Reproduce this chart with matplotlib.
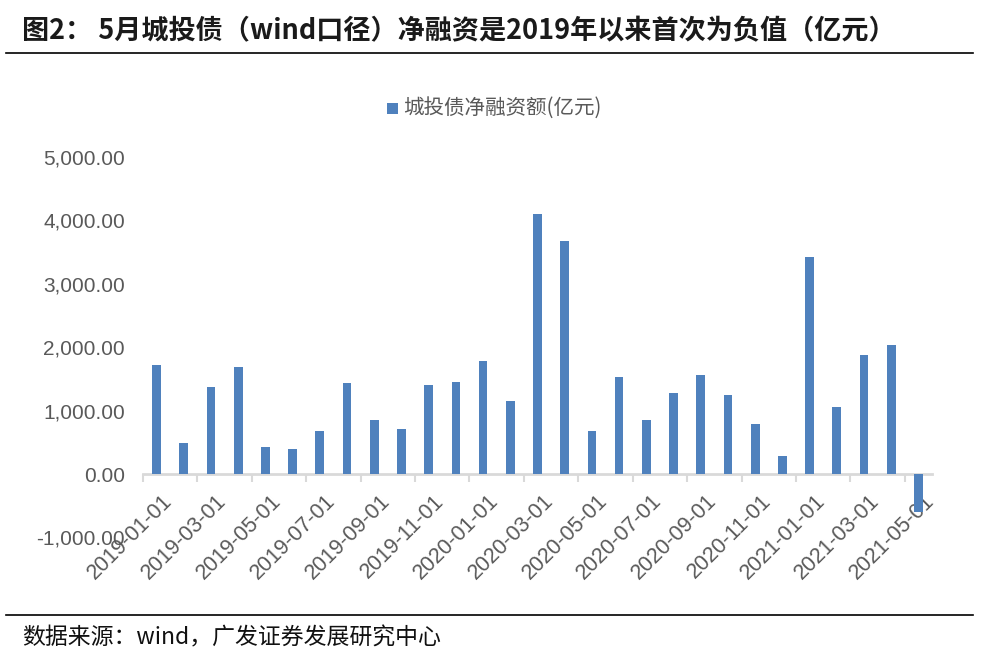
import matplotlib
matplotlib.use("Agg")
import matplotlib.pyplot as plt
from matplotlib.lines import Line2D
from matplotlib.patches import Rectangle
import numpy as np

plt.rcParams['font.family'] = ['Liberation Sans', 'Noto Sans CJK SC', 'DejaVu Sans']

months = ["2019-01-01", "2019-02-01", "2019-03-01", "2019-04-01", "2019-05-01", "2019-06-01",
          "2019-07-01", "2019-08-01", "2019-09-01", "2019-10-01", "2019-11-01", "2019-12-01",
          "2020-01-01", "2020-02-01", "2020-03-01", "2020-04-01", "2020-05-01", "2020-06-01",
          "2020-07-01", "2020-08-01", "2020-09-01", "2020-10-01", "2020-11-01", "2020-12-01",
          "2021-01-01", "2021-02-01", "2021-03-01", "2021-04-01", "2021-05-01"]
net_financing = [1720, 490, 1367, 1683, 421, 394, 678, 1430, 852, 710, 1399, 1446,
                 1777, 1157, 4101, 3680, 683, 1535, 852, 1272, 1556, 1251, 789, 279,
                 3418, 1062, 1877, 2040, -594]
yticks = [-1000, 0, 1000, 2000, 3000, 4000, 5000]

series_name = "城投债净融资额(亿元)"
title = "图2： 5月城投债（wind口径）净融资是2019年以来首次为负值（亿元）"
source = "数据来源：wind，广发证券发展研究中心"

bar_color = "#4F81BD"
gray = "#595959"

fig = plt.figure(figsize=(9.85, 6.7), dpi=100)
ax = fig.add_axes([143/985, 1-537.4/670, (932-143)/985, (537.4-157)/670])

x = np.arange(len(months))
ax.bar(x, net_financing, width=0.32, color=bar_color, zorder=2)

ax.set_xlim(-0.5, len(months) - 0.5)
ax.set_ylim(-1000, 5000)
ax.set_yticks(yticks)
ax.set_yticklabels([f"{v:,.2f}" for v in yticks], fontsize=15, color=gray)
ax.tick_params(axis='y', length=0, pad=13)

for s in ['top', 'right', 'left']:
    ax.spines[s].set_visible(False)
ax.spines['bottom'].set_position(('data', 0))
ax.spines['bottom'].set_color("#D9D9D9")
ax.spines['bottom'].set_linewidth(2)
ax.spines['bottom'].set_zorder(1)

ax.set_xticks(x[::2])
ax.set_xticklabels(months[::2], rotation=45, ha='right', va='top',
                   rotation_mode='anchor', fontsize=15.5, color=gray)
ax.set_xticks(np.arange(-0.5, len(months) - 1, 2), minor=True)
ax.tick_params(axis='x', which='major', length=0, pad=12)
ax.tick_params(axis='x', which='minor', length=6, width=1.5, color="#D9D9D9")
for lbl in ax.get_xticklabels():
    lbl.set_transform(lbl.get_transform() + matplotlib.transforms.ScaledTranslation(5/100, 0, fig.dpi_scale_trans))

# legend
fig.patches.append(Rectangle((387/985, 1-114/670), 11/985, 11/670, transform=fig.transFigure,
                             facecolor=bar_color, edgecolor='none'))
fig.text(403/985, 1-108/670, series_name, fontsize=14.8, color=gray, va='center', ha='left',
         family=['Noto Sans CJK SC', 'DejaVu Sans'])

# title & source
fig.text(22/985, 1-31/670, title, fontsize=19.5, fontweight='bold', color="#1a1a1a",
         va='center', ha='left', family=['Noto Sans CJK SC', 'DejaVu Sans'])
fig.add_artist(Line2D([6/985, 973/985], [1-53/670, 1-53/670], color='black', linewidth=1.2,
                      transform=fig.transFigure))
fig.add_artist(Line2D([6/985, 973/985], [1-615/670, 1-615/670], color='black', linewidth=1.2,
                      transform=fig.transFigure))
fig.text(22/985, 1-638/670, source, fontsize=16.5, color="#111111", va='center', ha='left',
         family=['Noto Sans CJK SC', 'DejaVu Sans'])

fig.savefig("out.png", dpi=100)
